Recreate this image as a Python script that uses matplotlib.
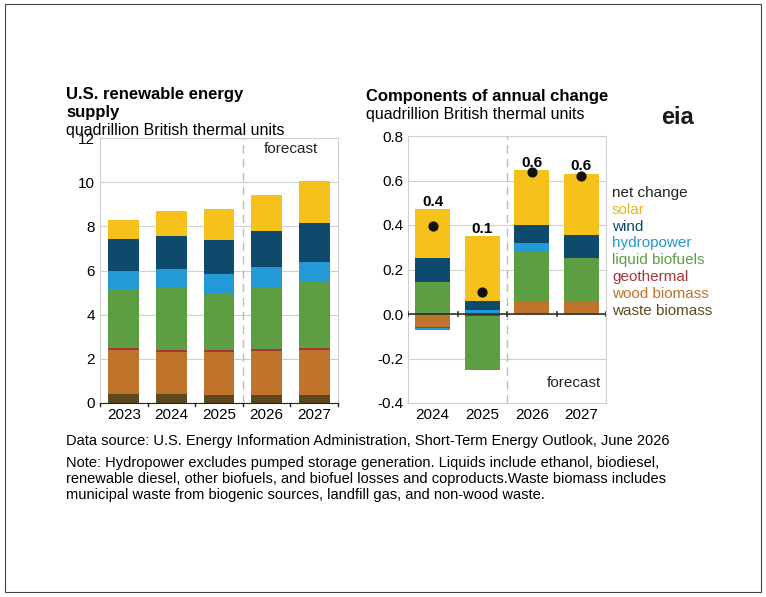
import numpy as np
import matplotlib.pyplot as plt

years_l = ['2023', '2024', '2025', '2026', '2027']
waste = [0.40, 0.40, 0.35, 0.35, 0.35]
wood = [2.00, 1.93, 1.95, 2.00, 2.07]
geo = [0.10, 0.09, 0.10, 0.10, 0.08]
liquid = [2.65, 2.81, 2.57, 2.78, 3.00]
hydro = [0.82, 0.82, 0.86, 0.91, 0.88]
wind = [1.45, 1.53, 1.57, 1.66, 1.77]
solar = [0.88, 1.12, 1.40, 1.62, 1.90]

years_r = ['2024', '2025', '2026', '2027']
d_waste = [-0.005, -0.01, 0.0, 0.0]
d_wood = [-0.055, 0.0, 0.06, 0.06]
d_geo = [-0.004, 0.0, 0.0, 0.0]
d_liquid = [0.145, -0.24, 0.22, 0.19]
d_hydro = [-0.01, 0.02, 0.04, -0.005]
d_wind = [0.105, 0.04, 0.08, 0.105]
d_solar = [0.22, 0.29, 0.245, 0.275]
net = [0.395, 0.10, 0.64, 0.62]
net_lbl = ['0.4', '0.1', '0.6', '0.6']

names = ['waste biomass', 'wood biomass', 'geothermal', 'liquid biofuels', 'hydropower', 'wind', 'solar']
colors = ['#5C4A1E', '#C0732B', '#A8333D', '#5D9E42', '#2399D5', '#0D4A6B', '#F5C21B']
txtcol = ['#5C4A1E', '#C0732B', '#A8333D', '#5D9E42', '#2399D5', '#0D4A6B', '#E8B520']

plt.rcParams['font.family'] = ['Liberation Sans', 'DejaVu Sans']
fig = plt.figure(figsize=(7.66, 5.97), dpi=100)
fig.patches.append(plt.Rectangle((0.006, 0.008), 0.988, 0.985, transform=fig.transFigure,
                                 fill=False, edgecolor='#444444', linewidth=0.8))

def style(ax):
    for s in ax.spines.values():
        s.set_color('#d0d0d0')
    ax.grid(axis='y', color='#d0d0d0', linewidth=0.8)
    ax.set_axisbelow(True)
    ax.tick_params(axis='y', length=0, labelsize=11)
    ax.tick_params(axis='x', length=0, labelsize=11)

# left
ax1 = fig.add_axes([100/766, 1-403/597, 238/766, 265/597])
x = np.arange(5)
bottom = np.zeros(5)
for vals, c in zip([waste, wood, geo, liquid, hydro, wind, solar], colors):
    ax1.bar(x, vals, 0.65, bottom=bottom, color=c, zorder=2)
    bottom += np.array(vals)
ax1.set_ylim(0, 12)
ax1.set_xlim(-0.5, 4.5)
ax1.set_yticks(range(0, 13, 2))
ax1.set_xticks(x, years_l)
style(ax1)
ax1.spines['bottom'].set_color('#222222')
for xv in np.arange(-0.5, 5, 1):
    ax1.plot([xv, xv], [0, -0.15], color='#222222', lw=1, clip_on=False)
ax1.axvline(2.5, color='#bbbbbb', ls=(0, (6, 4)), lw=1)
ax1.text(3.5, 11.3, 'forecast', ha='center', fontsize=11, color='#222222')
fig.text(66/766, 1-95/597, 'U.S. renewable energy', fontsize=12, fontweight='bold', va='center')
fig.text(66/766, 1-113/597, 'supply', fontsize=12, fontweight='bold', va='center')
fig.text(66/766, 1-130/597, 'quadrillion British thermal units', fontsize=11.5, va='center')

# right
ax2 = fig.add_axes([408/766, 1-403/597, 198/766, 267/597])
x = np.arange(4)
pos = np.zeros(4)
neg = np.zeros(4)
for vals, c in zip([d_waste, d_wood, d_geo, d_liquid, d_hydro, d_wind, d_solar], colors):
    v = np.array(vals)
    b = np.where(v >= 0, pos, neg)
    ax2.bar(x, v, 0.7, bottom=b, color=c, zorder=2)
    pos += np.where(v >= 0, v, 0)
    neg += np.where(v < 0, v, 0)
ax2.scatter(x, net, marker='o', s=40, color='#111111', zorder=4)
for xi, top, lb in zip(x, pos, net_lbl):
    ax2.text(xi, top + 0.015, lb, ha='center', fontsize=11, fontweight='bold')
ax2.set_ylim(-0.4, 0.8)
ax2.set_xlim(-0.5, 3.5)
ax2.set_yticks(np.arange(-0.4, 0.81, 0.2), ['-0.4', '-0.2', '0.0', '0.2', '0.4', '0.6', '0.8'])
ax2.set_xticks(x, years_r)
style(ax2)
ax2.axhline(0, color='#333333', lw=1.2, zorder=3)
for xv in np.arange(-0.5, 4, 1):
    ax2.plot([xv, xv], [-0.008, 0.008], color='#333333', lw=1.2, zorder=3)
ax2.axvline(1.5, color='#bbbbbb', ls=(0, (6, 4)), lw=1)
ax2.text(2.85, -0.33, 'forecast', ha='center', fontsize=11, color='#222222')
fig.text(366/766, 1-97/597, 'Components of annual change', fontsize=12, fontweight='bold', va='center')
fig.text(366/766, 1-115/597, 'quadrillion British thermal units', fontsize=11.5, va='center')

leg = ['net change'] + names[::-1]
legc = ['#222222'] + txtcol[::-1]
for i, (t, c) in enumerate(zip(leg, legc)):
    fig.text(612/766, 1-(193 + i*16.8)/597, t, color=c, fontsize=11, va='center')

fig.text(677/766, 1-117/597, 'eia', fontsize=17, fontweight='bold', color='#1a1a1a', ha='center', va='center')

fig.text(66/766, 1-441/597, 'Data source: U.S. Energy Information Administration, Short-Term Energy Outlook, June 2026', fontsize=10.5, va='center')
fig.text(66/766, 1-479/597, 'Note: Hydropower excludes pumped storage generation. Liquids include ethanol, biodiesel,\n'
         'renewable diesel, other biofuels, and biofuel losses and coproducts.Waste biomass includes\n'
         'municipal waste from biogenic sources, landfill gas, and non-wood waste.', fontsize=10.5, va='center', linespacing=1.15)

fig.savefig('out.png', dpi=100)
